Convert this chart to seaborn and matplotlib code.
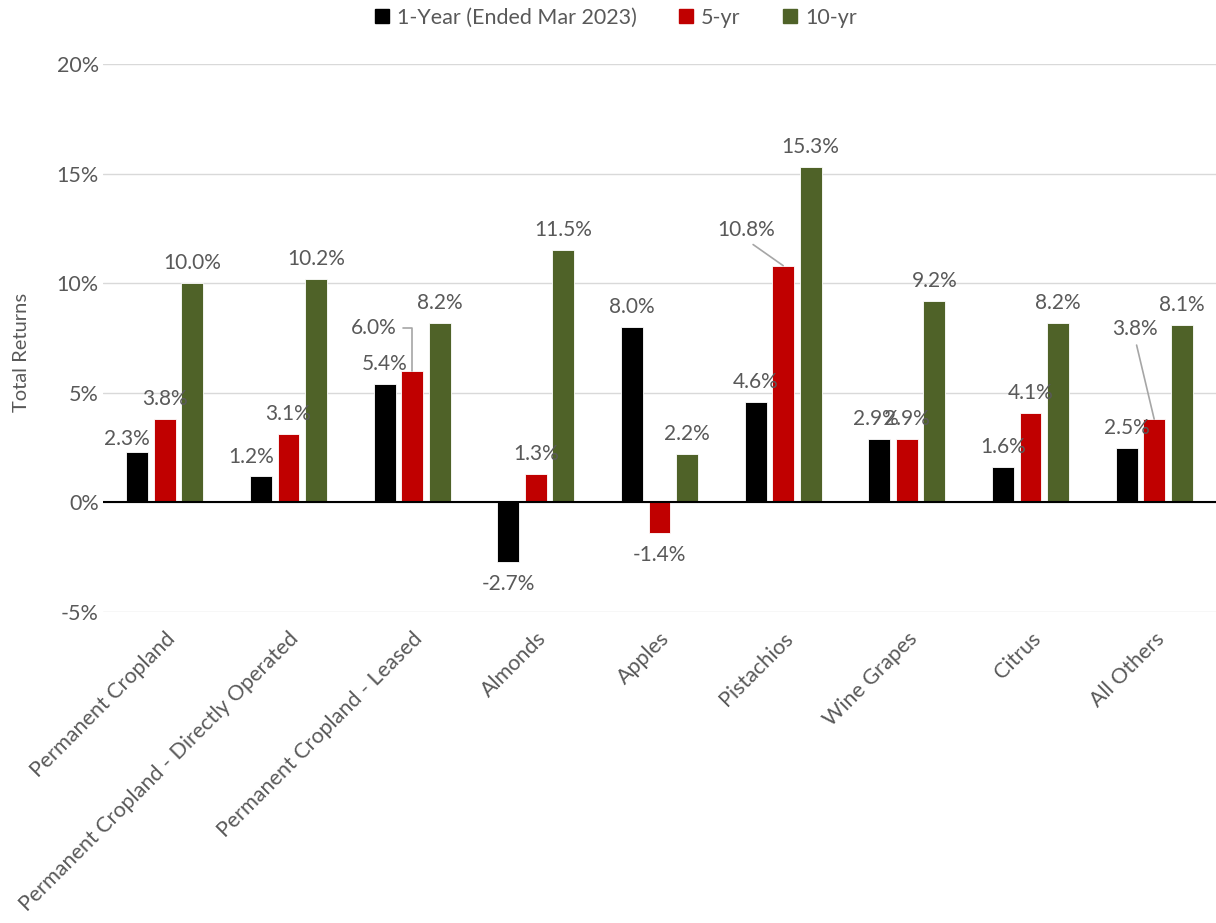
import matplotlib
matplotlib.use("Agg")
import matplotlib.pyplot as plt
from matplotlib.lines import Line2D
import seaborn as sns
import pandas as pd

categories = ["Permanent Cropland", "Permanent Cropland - Directly Operated",
              "Permanent Cropland - Leased", "Almonds", "Apples", "Pistachios",
              "Wine Grapes", "Citrus", "All Others"]
series_names = ["1-Year (Ended Mar 2023)", "5-yr", "10-yr"]
one_year = [2.3, 1.2, 5.4, -2.7, 8.0, 4.6, 2.9, 1.6, 2.5]
five_year = [3.8, 3.1, 6.0, 1.3, -1.4, 10.8, 2.9, 4.1, 3.8]
ten_year = [10.0, 10.2, 8.2, 11.5, 2.2, 15.3, 9.2, 8.2, 8.1]
y_ticks = [-5, 0, 5, 10, 15, 20]
colors = ["#000000", "#C00000", "#4F6228"]

sns.set_theme(style="white")
plt.rcParams["font.family"] = ["Lato", "DejaVu Sans"]
TXT = "#595959"

rows = []
for name, vals in zip(series_names, [one_year, five_year, ten_year]):
    for c, v in zip(categories, vals):
        rows.append({"Category": c, "Series": name, "Value": v})
df = pd.DataFrame(rows)

fig = plt.figure(figsize=(12.16, 9.23), dpi=100)
ax = fig.add_axes([103 / 1216, 1 - 612 / 923, (1216 - 103) / 1216, (612 - 64) / 923])

sns.barplot(data=df, x="Category", y="Value", hue="Series", order=categories,
            hue_order=series_names, palette=colors, width=0.667, gap=0.2,
            errorbar=None, ax=ax, legend=False, saturation=1,
            edgecolor="white", linewidth=0.6)

ax.set_ylim(-5, 20)
ax.set_xlim(-0.5, len(categories) - 0.5)
ax.set_yticks(y_ticks)
ax.set_yticklabels([f"{t}%" for t in y_ticks], fontsize=15.5, color=TXT)
ax.yaxis.grid(True, color="#d9d9d9", linewidth=1)
ax.set_axisbelow(True)
for s in ax.spines.values():
    s.set_visible(False)
ax.axhline(0, color="black", linewidth=1.5, zorder=3)
ax.tick_params(axis="y", length=0, pad=3)
ax.tick_params(axis="x", length=0, pad=12)
ax.set_xlabel("")
ax.set_ylabel("Total Returns", fontsize=14.5, color=TXT)
ax.yaxis.set_label_coords(-0.066, 0.474)
ax.set_xticks(range(len(categories)))
ax.set_xticklabels(categories, rotation=45, ha="right", rotation_mode="anchor",
                   fontsize=15.5, color=TXT)

# label placement (pixel offsets -> points)
PX = 0.72
special = {
    (0, 0): {"dx": -10, "dy": 13},
    (0, 1): {"dx": -10, "dy": 19},
    (1, 2): {"dx": -38, "dy": 43, "leader": "elbow"},
    (1, 5): {"dx": -37, "dy": 36, "leader": "straight"},
    (1, 8): {"dx": -19, "dy": 90, "leader": "straight"},
    (0, 6): {"dx": -3, "dy": 20},
}
all_vals = [one_year, five_year, ten_year]
for si, cont in enumerate(ax.containers):
    for ci, bar in enumerate(cont):
        v = all_vals[si][ci]
        xc = bar.get_x() + bar.get_width() / 2
        sp = special.get((si, ci), {})
        dx = sp.get("dx", 0)
        dy = sp.get("dy", 20 if v >= 0 else -22)
        kw = {}
        if sp.get("leader") == "elbow":
            kw["arrowprops"] = dict(arrowstyle="-", color="#a6a6a6", lw=1.2,
                                    shrinkA=2, shrinkB=0, relpos=(1, 0.5),
                                    connectionstyle="angle,angleA=0,angleB=90,rad=0")
        elif sp.get("leader") == "straight":
            kw["arrowprops"] = dict(arrowstyle="-", color="#a6a6a6", lw=1.2,
                                    shrinkA=2, shrinkB=0, relpos=(0.5, 0))
        ax.annotate(f"{v:.1f}%", xy=(xc, v), xytext=(dx * PX, dy * PX),
                    textcoords="offset points", ha="center", va="center",
                    fontsize=15, color=TXT, zorder=5, **kw)

handles = [Line2D([], [], marker="s", linestyle="", markersize=10,
                  markerfacecolor=c, markeredgecolor=c) for c in colors]
fig.legend(handles, series_names, loc="center", bbox_to_anchor=(614 / 1216, 1 - 18 / 923),
           ncol=3, frameon=False, fontsize=15.5, labelcolor=TXT, handletextpad=0.2,
           columnspacing=1.8, handlelength=1.0)

fig.savefig("out.png", dpi=100)
